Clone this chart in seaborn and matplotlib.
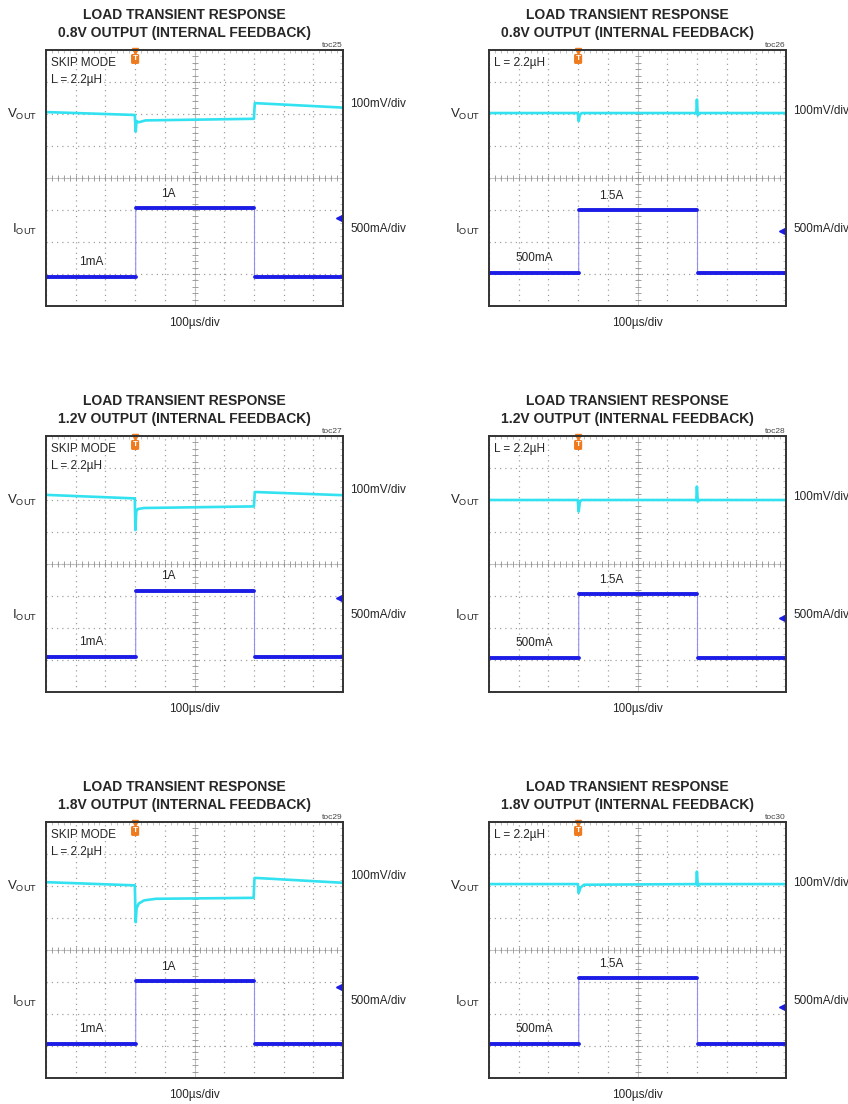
import numpy as np
import matplotlib
matplotlib.use("Agg")
import matplotlib.pyplot as plt
import matplotlib.transforms as mtransforms
import seaborn as sns

## panel text
volt_labels = ["0.8V", "0.8V", "1.2V", "1.2V", "1.8V", "1.8V"]
toc_labels = ["toc25", "toc26", "toc27", "toc28", "toc29", "toc30"]
skip_mode = [True, False, True, False, True, False]
hi_labels = ["1A", "1.5A", "1A", "1.5A", "1A", "1.5A"]
lo_labels = ["1mA", "500mA", "1mA", "500mA", "1mA", "500mA"]

## VOUT traces, time and level in scope divisions
vout_t = [
    [0, 2.99, 3.02, 3.05, 3.12, 3.35, 7.0, 7.03, 10],
    [0, 2.99, 3.02, 3.06, 3.12, 6.98, 7.0, 7.03, 7.08, 10],
    [0, 2.99, 3.01, 3.04, 3.1, 3.3, 7.0, 7.03, 10],
    [0, 2.99, 3.02, 3.06, 3.12, 6.98, 7.0, 7.03, 7.08, 10],
    [0, 2.99, 3.02, 3.05, 3.12, 3.3, 3.7, 6.99, 7.02, 7.1, 10],
    [0, 2.99, 3.02, 3.08, 3.2, 6.98, 7.0, 7.03, 7.08, 10],
]
vout_v = [
    [6.06, 5.97, 5.45, 5.78, 5.74, 5.8, 5.85, 6.34, 6.2],
    [6.03, 6.03, 5.78, 5.97, 6.03, 6.03, 6.45, 5.96, 6.03, 6.03],
    [6.16, 6.05, 5.06, 5.65, 5.72, 5.75, 5.8, 6.25, 6.15],
    [6.0, 6.0, 5.64, 5.95, 6.0, 6.0, 6.42, 5.95, 6.0, 6.0],
    [6.12, 6.02, 4.87, 5.3, 5.45, 5.55, 5.6, 5.63, 6.25, 6.25, 6.1],
    [6.06, 6.06, 5.78, 5.95, 6.04, 6.06, 6.45, 6.0, 6.06, 6.06],
]

## IOUT levels (divisions), load step edges and channel ground marker
iout_lo = [0.9, 1.03, 1.09, 1.06, 1.06, 1.06]
iout_hi = [3.05, 3.0, 3.16, 3.06, 3.03, 3.12]
step_edges = [3.02, 7.02]
gnd_marker = [2.75, 2.34, 2.94, 2.31, 2.84, 2.22]

VOUT_COL = "#33E2F0"
IOUT_COL = "#1C1CE6"
TRIG_COL = "#F07A1E"

sns.set_style("white")
plt.rcParams["font.family"] = ["Liberation Sans", "DejaVu Sans"]
plt.rcParams["mathtext.fontset"] = "custom"
plt.rcParams["mathtext.rm"] = "Liberation Sans"
plt.rcParams["mathtext.it"] = "Liberation Sans"

W, H = 848, 1104
fig = plt.figure(figsize=(W / 100, H / 100), dpi=100)

col_left = [46, 489]
row_top = [50, 436, 822]
box_w, box_h = 297, 256


def draw_graticule(ax):
    ax.set_xlim(0, 10)
    ax.set_ylim(0, 8)
    ax.set_xticks(range(11))
    ax.set_yticks(range(9))
    ax.set_xticks(np.arange(0, 10.01, 0.2), minor=True)
    ax.set_yticks(np.arange(0, 8.01, 0.2), minor=True)
    ax.tick_params(which="both", direction="in", top=True, right=True,
                   labelbottom=False, labelleft=False)
    ax.tick_params(which="major", length=0)
    ax.tick_params(which="minor", length=2.2, width=0.5, color="#a8a8a8")
    ax.grid(True, which="major", color="#a0a0a0", linestyle=(0, (1, 3.2)), lw=0.9)
    ## center cross with small ticks
    ax.axhline(4, color="#b8b8b8", lw=0.6)
    ax.axvline(5, color="#b8b8b8", lw=0.6)
    tx = np.arange(0.2, 10, 0.2)
    ty = np.arange(0.2, 8, 0.2)
    ax.plot(tx, np.full(len(tx), 4.0), ls="none", marker="|", ms=4, mew=0.6, color="#909090")
    ax.plot(np.full(len(ty), 5.0), ty, ls="none", marker="_", ms=4, mew=0.6, color="#909090")
    for s in ax.spines.values():
        s.set_color("#333333")
        s.set_linewidth(1.4)


for i in range(6):
    r, c = divmod(i, 2)
    left = col_left[c] / W
    bottom = 1 - (row_top[r] + box_h) / H
    ax = fig.add_axes([left, bottom, box_w / W, box_h / H])
    draw_graticule(ax)

    ## VOUT trace
    sns.lineplot(x=vout_t[i], y=vout_v[i], ax=ax, color=VOUT_COL, lw=1.9,
                 estimator=None, sort=False)

    ## IOUT trace: thin edges, thick flat parts
    e0, e1 = step_edges
    it = [0, e0, e0 + 0.001, e1, e1 + 0.001, 10]
    iy = [iout_lo[i], iout_lo[i], iout_hi[i], iout_hi[i], iout_lo[i], iout_lo[i]]
    sns.lineplot(x=it, y=iy, ax=ax, color="#9090F0", lw=0.8, estimator=None, sort=False)
    for a, b in [(0, 2), (2, 4), (4, 6)]:
        sns.lineplot(x=it[a:b], y=iy[a:b], ax=ax, color=IOUT_COL, lw=2.8,
                     estimator=None, sort=False)

    ## trigger marker and ground marker
    ax.plot(3.0, 7.98, marker="v", ms=4, color=TRIG_COL, clip_on=False)
    ax.text(3.0, 7.72, "T", ha="center", va="center", color="white", fontsize=6,
            fontweight="bold",
            bbox=dict(boxstyle="round,pad=0.18", fc=TRIG_COL, ec="none"))
    ax.plot(9.86, gnd_marker[i], marker="<", ms=4, color=IOUT_COL, clip_on=False)

    ## step labels
    ax.text(4.12, iout_hi[i] + 0.45, hi_labels[i], ha="center", va="center", fontsize=8.5)
    ax.text(1.52, iout_lo[i] + 0.46, lo_labels[i], ha="center", va="center", fontsize=8.5)

    ## notes in the top-left corner
    if skip_mode[i]:
        ax.text(0.18, 7.6, "SKIP MODE", ha="left", va="center", fontsize=8.5)
        ax.text(0.18, 7.05, "L = 2.2µH", ha="left", va="center", fontsize=8.5)
    else:
        ax.text(0.18, 7.6, "L = 2.2µH", ha="left", va="center", fontsize=8.5)

    ## channel labels outside the box
    tr = mtransforms.blended_transform_factory(ax.transAxes, ax.transData)
    ax.text(-0.03, 6.0, r"V$_{\mathrm{OUT}}$", transform=tr, ha="right", va="center", fontsize=9.5)
    ax.text(-0.03, 2.4, r"I$_{\mathrm{OUT}}$", transform=tr, ha="right", va="center", fontsize=9.5)
    ax.text(1.025, 6.3 if c == 0 else 6.1, "100mV/div", transform=tr, ha="left",
            va="center", fontsize=8.5)
    ax.text(1.025, 2.4, "500mA/div", transform=tr, ha="left", va="center", fontsize=8.5)
    ax.text(0.5, -0.065, "100µs/div", transform=ax.transAxes, ha="center",
            va="center", fontsize=8.5)

    ## title
    ax.text(0.466, 1.137, "LOAD TRANSIENT RESPONSE", transform=ax.transAxes,
            ha="center", va="center", fontsize=10, fontweight="bold")
    ax.text(0.466, 1.066, volt_labels[i] + " OUTPUT (INTERNAL FEEDBACK)",
            transform=ax.transAxes, ha="center", va="center", fontsize=10,
            fontweight="bold")
    ax.text(1.0, 1.018, toc_labels[i], transform=ax.transAxes, ha="right",
            va="center", fontsize=6, color="#444444")
    ax.set_xlabel("")
    ax.set_ylabel("")

fig.savefig("out.png", dpi=100)
plt.close(fig)
